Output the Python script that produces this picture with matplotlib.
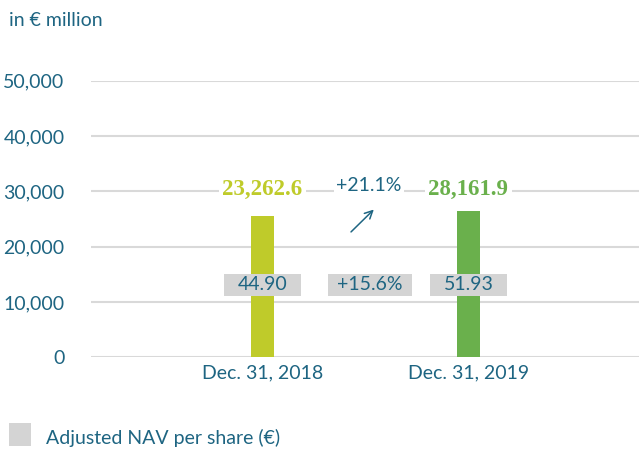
import matplotlib.pyplot as plt
from matplotlib.patches import Rectangle

# data
dates = ['Dec. 31, 2018', 'Dec. 31, 2019']
nav_labels = ['23,262.6', '28,161.9']
bar_heights = [25500, 26400]  # bar tops as drawn in the picture
nav_per_share = ['44.90', '51.93']
nav_change = '+21.1%'
share_change = '+15.6%'
yticks = [0, 10000, 20000, 30000, 40000, 50000]

teal = '#1E6582'
bar_colors = ['#BFCB2A', '#6AB04C']
grey_box = '#D4D4D4'
fs = 14
plt.rcParams['font.family'] = ['Lato', 'DejaVu Sans']

fig = plt.figure(figsize=(6.39, 4.5), dpi=100)
ax = fig.add_axes([0.1424, 0.206, 0.8576, 0.615])

x = list(range(len(dates)))
ax.bar(x, bar_heights, width=0.112, color=bar_colors, zorder=2)

ax.set_xlim(-0.833, 1.828)
ax.set_ylim(0, 50000)
ax.set_yticks(yticks)
ax.set_yticklabels([f'{v:,}' for v in yticks])
ax.set_xticks(x)
ax.set_xticklabels(dates)
ax.tick_params(axis='both', length=0, labelsize=fs, labelcolor=teal)
ax.tick_params(axis='y', pad=19)
ax.tick_params(axis='x', pad=5)
ax.grid(axis='y', color='#D9D9D9', lw=1.5, zorder=0)
for s in ax.spines.values():
    s.set_visible(False)

# value labels on the 30,000 line
for xi, lab, col in zip(x, nav_labels, bar_colors):
    ax.text(xi, 30300, lab, ha='center', va='center', fontsize=16.5,
            fontweight='bold', family='Liberation Serif', color=col, zorder=4,
            bbox=dict(boxstyle='square,pad=0.15', fc='white', ec='none'))

ax.text(0.517, 30950, nav_change, ha='center', va='center', fontsize=fs,
        color=teal, zorder=4,
        bbox=dict(boxstyle='square,pad=0.1', fc='white', ec='none'))
ax.annotate('', xy=(0.55, 27050), xytext=(0.42, 22300),
            arrowprops=dict(arrowstyle='->', color=teal, lw=1.1,
                            mutation_scale=14))

# NAV per share boxes
row_y = 13100
box_h = 4000
for xi, val in zip(x, nav_per_share):
    ax.add_patch(Rectangle((xi - 0.185, row_y - box_h / 2), 0.37, box_h,
                           fc=grey_box, ec='none', zorder=3))
    ax.text(xi, row_y, val, ha='center', va='center', fontsize=fs,
            color=teal, zorder=4)
ax.add_patch(Rectangle((0.522 - 0.204, row_y - box_h / 2), 0.408, box_h,
                       fc=grey_box, ec='none', zorder=3))
ax.text(0.522, row_y, share_change, ha='center', va='center', fontsize=fs,
        color=teal, zorder=4)

fig.text(0.014, 0.955, 'in € million', ha='left', va='center',
         fontsize=fs, color=teal)

fig.patches.append(Rectangle((0.0141, 0.009), 0.0344, 0.051, fc=grey_box,
                             ec='none', transform=fig.transFigure))
fig.text(0.072, 0.027, 'Adjusted NAV per share (€)', ha='left',
         va='center', fontsize=fs, color=teal)

fig.savefig('out.png', dpi=100)
